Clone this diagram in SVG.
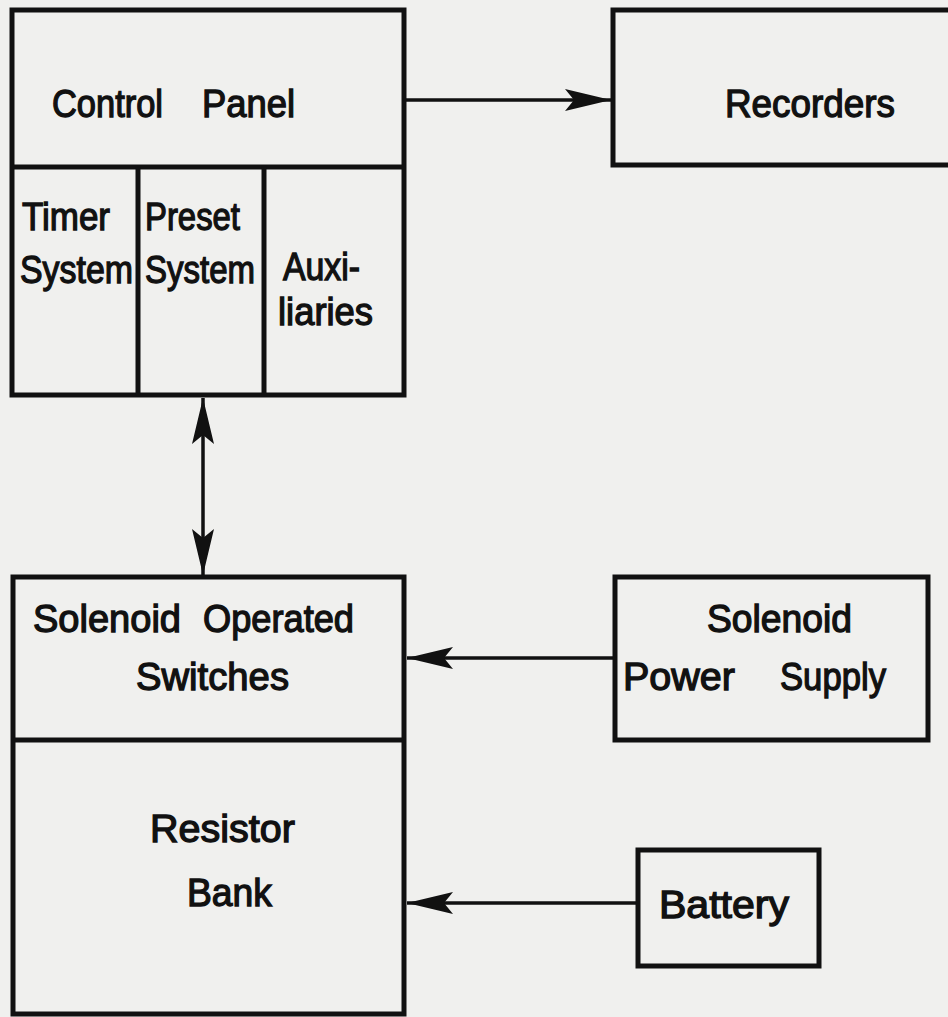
<svg xmlns="http://www.w3.org/2000/svg" width="948" height="1017" viewBox="0 0 948 1017">
<style>
.box{fill:none;stroke:#111;stroke-width:5;stroke-linejoin:miter}
.ln{fill:none;stroke:#111;stroke-width:3.5}
.t{font-family:"Liberation Sans",Arial,sans-serif;font-size:38px;fill:#111;stroke:#111;stroke-width:1.3}
</style>
<defs>
<marker id="ah" viewBox="0 0 46 22" refX="46" refY="11" markerWidth="46" markerHeight="22" markerUnits="userSpaceOnUse" orient="auto-start-reverse">
<path d="M0,0 L46,11 L0,22 L9,11 Z" fill="#111"/>
</marker>
</defs>
<rect width="948" height="1017" fill="#f0f0ee"/>
<g id="connectors">
<line class="ln" x1="406" y1="100" x2="611" y2="100" marker-end="url(#ah)"/>
<line class="ln" x1="203" y1="398" x2="203" y2="575" marker-start="url(#ah)" marker-end="url(#ah)"/>
<line class="ln" x1="613" y1="658" x2="407" y2="658" marker-end="url(#ah)"/>
<line class="ln" x1="637" y1="903" x2="407" y2="903" marker-end="url(#ah)"/>
</g>
<g id="control-panel">
<rect class="box" x="12" y="10" width="392" height="385"/>
<line class="box" x1="12" y1="167" x2="404" y2="167"/>
<line class="box" x1="138" y1="167" x2="138" y2="395"/>
<line class="box" x1="264" y1="167" x2="264" y2="395"/>
<text class="t" x="52" y="117" textLength="111" lengthAdjust="spacingAndGlyphs">Control</text>
<text class="t" x="202" y="117" textLength="93" lengthAdjust="spacingAndGlyphs">Panel</text>
</g>
<g id="timer-system">
<text class="t" x="22" y="230" textLength="88" lengthAdjust="spacingAndGlyphs">Timer</text>
<text class="t" x="20" y="283" textLength="113" lengthAdjust="spacingAndGlyphs">System</text>
</g>
<g id="preset-system">
<text class="t" x="145" y="230" textLength="95" lengthAdjust="spacingAndGlyphs">Preset</text>
<text class="t" x="145" y="283" textLength="110" lengthAdjust="spacingAndGlyphs">System</text>
</g>
<g id="auxiliaries">
<text class="t" x="283" y="280" textLength="77" lengthAdjust="spacingAndGlyphs">Auxi-</text>
<text class="t" x="278" y="325" textLength="95" lengthAdjust="spacingAndGlyphs">liaries</text>
</g>
<g id="recorders">
<rect class="box" x="613" y="10" width="345" height="155"/>
<text class="t" x="725" y="117" textLength="170" lengthAdjust="spacingAndGlyphs">Recorders</text>
</g>
<g id="solenoid-switches">
<rect class="box" x="13" y="577" width="391" height="437"/>
<line class="box" x1="13" y1="740" x2="404" y2="740"/>
<text class="t" x="33" y="632" textLength="148" lengthAdjust="spacingAndGlyphs">Solenoid</text>
<text class="t" x="203" y="632" textLength="151" lengthAdjust="spacingAndGlyphs">Operated</text>
<text class="t" x="136" y="690" textLength="153" lengthAdjust="spacingAndGlyphs">Switches</text>
</g>
<g id="resistor-bank">
<text class="t" x="150" y="842" textLength="145" lengthAdjust="spacingAndGlyphs">Resistor</text>
<text class="t" x="187" y="906" textLength="85" lengthAdjust="spacingAndGlyphs">Bank</text>
</g>
<g id="solenoid-power-supply">
<rect class="box" x="615" y="577" width="313" height="163"/>
<text class="t" x="707" y="632" textLength="145" lengthAdjust="spacingAndGlyphs">Solenoid</text>
<text class="t" x="623" y="690" textLength="112" lengthAdjust="spacingAndGlyphs">Power</text>
<text class="t" x="780" y="690" textLength="106" lengthAdjust="spacingAndGlyphs">Supply</text>
</g>
<g id="battery">
<rect class="box" x="638" y="850" width="181" height="116"/>
<text class="t" x="659" y="918" textLength="130" lengthAdjust="spacingAndGlyphs">Battery</text>
</g>
</svg>
